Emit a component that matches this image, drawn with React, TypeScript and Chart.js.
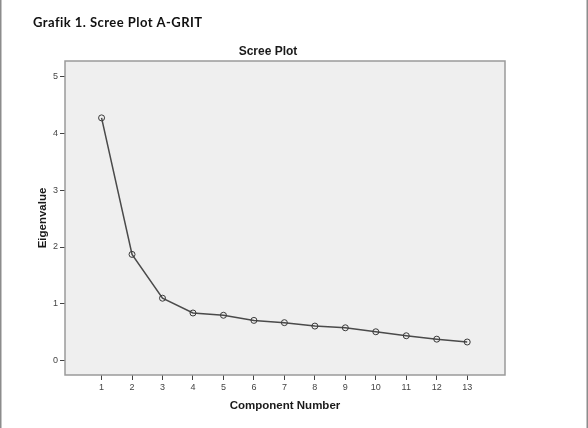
import React, { useEffect, useRef } from "react";
import { Chart, registerables } from "chart.js";

Chart.register(...registerables);

const componentNumbers = [1, 2, 3, 4, 5, 6, 7, 8, 9, 10, 11, 12, 13];
const eigenvalues = [4.27, 1.87, 1.1, 0.84, 0.8, 0.71, 0.67, 0.61, 0.58, 0.51, 0.44, 0.38, 0.33];
const yTickValues = [0, 1, 2, 3, 4, 5];
const headingText = "Grafik 1. Scree Plot A-GRIT";
const chartTitleText = "Scree Plot";
const xTitleText = "Component Number";
const yTitleText = "Eigenvalue";

const FONT = "'Liberation Sans', Arial, sans-serif";

const framePlugin = {
  id: "spssFrame",
  beforeDraw(chart: any) {
    const { ctx, chartArea, width, height } = chart;
    ctx.save();
    ctx.fillStyle = "#ffffff";
    ctx.fillRect(0, 0, width, height);
    ctx.fillStyle = "#8c8c8c";
    ctx.fillRect(0, 0, 1.5, height);
    ctx.fillRect(width - 1.5, 0, 1.5, height);
    ctx.fillStyle = "#efefef";
    ctx.fillRect(chartArea.left, chartArea.top, chartArea.right - chartArea.left, chartArea.bottom - chartArea.top);
    ctx.restore();
  },
  beforeDatasetsDraw(chart: any) {
    const { ctx, chartArea } = chart;
    ctx.save();
    ctx.strokeStyle = "#9a9a9a";
    ctx.lineWidth = 1.5;
    ctx.strokeRect(chartArea.left, chartArea.top, chartArea.right - chartArea.left, chartArea.bottom - chartArea.top);
    ctx.restore();
  },
  afterDraw(chart: any) {
    const { ctx, chartArea } = chart;
    const cx = (chartArea.left + chartArea.right) / 2;
    const cy = (chartArea.top + chartArea.bottom) / 2;
    ctx.save();
    ctx.fillStyle = "#111";
    ctx.textBaseline = "alphabetic";
    ctx.textAlign = "left";
    ctx.font = "bold 13px Lato, 'Noto Sans', sans-serif";
    (ctx as any).letterSpacing = "0.45px";
    ctx.fillText(headingText, 33, 27);
    (ctx as any).letterSpacing = "0px";

    ctx.fillStyle = "#1a1a1a";
    ctx.textAlign = "center";
    ctx.font = `bold 12px ${FONT}`;
    ctx.fillText(chartTitleText, 268, 55);

    ctx.font = `bold 11.5px ${FONT}`;
    ctx.fillText(xTitleText, cx, 409);

    ctx.translate(46, cy);
    ctx.rotate(-Math.PI / 2);
    ctx.fillText(yTitleText, 0, 0);
    ctx.restore();
  },
};

export default function App() {
  const canvasRef = useRef<HTMLCanvasElement | null>(null);

  useEffect(() => {
    if (!canvasRef.current) return;
    const chart = new Chart(canvasRef.current, {
      type: "line",
      data: {
        datasets: [
          {
            data: componentNumbers.map((x, i) => ({ x, y: eigenvalues[i] })),
            borderColor: "#4a4a4a",
            borderWidth: 1.5,
            pointRadius: 3,
            pointBorderWidth: 1,
            pointBorderColor: "#3a3a3a",
            pointBackgroundColor: "rgba(0,0,0,0)",
            tension: 0,
          },
        ],
      },
      options: {
        responsive: false,
        animation: false,
        devicePixelRatio: 1,
        layout: { padding: { left: 25, top: 61, right: 83, bottom: 23 } },
        plugins: {
          legend: { display: false },
          tooltip: { enabled: false },
          title: { display: false },
        },
        scales: {
          x: {
            type: "linear",
            min: -0.2,
            max: 14.24,
            afterBuildTicks: (s: any) => {
              s.ticks = componentNumbers.map((v) => ({ value: v }));
            },
            afterFit: (s: any) => {
              s.height = 30;
            },
            grid: {
              display: true,
              drawOnChartArea: false,
              drawTicks: true,
              tickLength: 5,
              tickColor: "#444",
              tickWidth: 1,
            },
            border: { display: false },
            ticks: {
              padding: 2,
              color: "#444",
              font: { family: FONT, size: 9 },
              maxRotation: 0,
              autoSkip: false,
              callback: (v: any) => String(v),
            },
          },
          y: {
            type: "linear",
            min: -0.25,
            max: 5.27,
            afterBuildTicks: (s: any) => {
              s.ticks = yTickValues.map((v) => ({ value: v }));
            },
            afterFit: (s: any) => {
              s.width = 40;
            },
            grid: {
              display: true,
              drawOnChartArea: false,
              drawTicks: true,
              tickLength: 5,
              tickColor: "#444",
              tickWidth: 1,
            },
            border: { display: false },
            ticks: {
              padding: 2,
              color: "#444",
              font: { family: FONT, size: 9 },
              autoSkip: false,
              callback: (v: any) => String(v),
            },
          },
        },
      },
      plugins: [framePlugin],
    });
    return () => chart.destroy();
  }, []);

  return (
    <div style={{ position: "fixed", left: 0, top: 0, width: 588, height: 428, background: "#fff" }}>
      <canvas ref={canvasRef} width={588} height={428} style={{ display: "block", width: 588, height: 428 }} />
    </div>
  );
}
